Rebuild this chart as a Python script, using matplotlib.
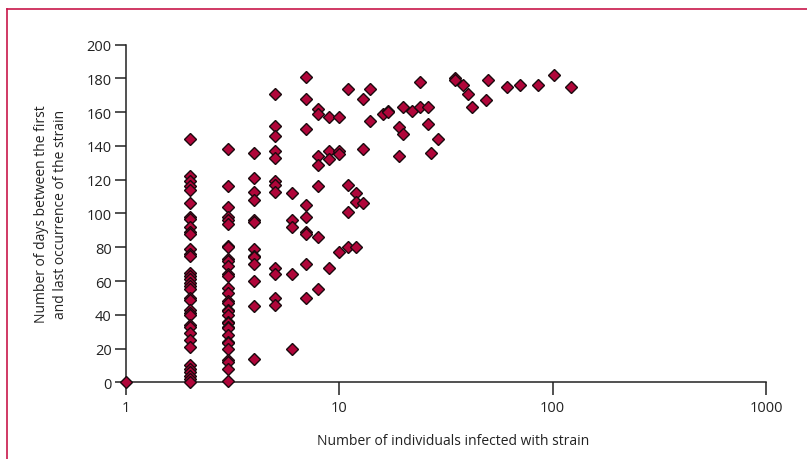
import matplotlib
matplotlib.use("Agg")
import matplotlib.pyplot as plt
from matplotlib.lines import Line2D

plt.rcParams['font.family'] = ['Open Sans', 'DejaVu Sans']

# number of individuals infected with a strain (one entry per group)
n_infected = [1, 2, 3, 4, 5, 6, 7, 8, 9, 10, 11, 12, 13, 14, 16, 17, 19, 20, 22,
              24, 26, 27, 29, 35, 38, 40, 42, 49, 50, 61, 70, 85, 102, 122]

# days between first and last occurrence, for each group above
days_span = [
    [0],
    [144, 122, 119, 116, 114, 106, 98, 97, 92, 89, 88, 79, 76, 75, 65, 63, 61, 59,
     57, 55, 50, 49, 43, 41, 40, 34, 33, 29, 25, 21, 10, 8, 6, 4, 2, 0],
    [138, 116, 104, 98, 96, 94, 81, 80, 73, 72, 69, 64, 63, 56, 53, 48, 47, 43,
     42, 40, 36, 35, 33, 32, 28, 24, 23, 20, 13, 12, 8, 1],
    [136, 121, 113, 108, 96, 95, 79, 75, 74, 70, 60, 45, 14],
    [171, 152, 146, 137, 133, 119, 117, 113, 68, 64, 50, 46],
    [112, 96, 92, 64, 20],
    [181, 168, 150, 105, 98, 89, 88, 70, 50],
    [162, 159, 134, 129, 116, 86, 55],
    [157, 137, 132, 68],
    [157, 137, 135, 77],
    [174, 117, 101, 80],
    [112, 107, 80],
    [168, 138, 106],
    [174, 155],
    [159],
    [161, 160],
    [151, 134],
    [163, 147],
    [161],
    [178, 163],
    [163, 153],
    [136],
    [144],
    [180, 179],
    [176],
    [171],
    [163],
    [167],
    [179],
    [175],
    [176],
    [176],
    [182],
    [175],
]

xs = []
ys = []
for n, days in zip(n_infected, days_span):
    for d in days:
        xs.append(n)
        ys.append(d)

fig = plt.figure(figsize=(8.07, 4.60), dpi=100)
ax = fig.add_axes([0.1558, 0.1667, 0.7934, 0.734])

ax.plot(xs, ys, linestyle='none', marker='D', markersize=6.3,
        markerfacecolor='#b0063a', markeredgecolor='#1a0a0e', markeredgewidth=1.0,
        clip_on=False, zorder=3)

ax.set_xscale('log')
ax.set_xlim(1, 1000)
ax.set_ylim(0, 200)
ax.set_xticks([1, 10, 100, 1000])
ax.set_xticklabels(['1', '10', '100', '1000'])
ax.xaxis.set_minor_locator(matplotlib.ticker.NullLocator())
ax.set_yticks(range(0, 201, 20))

for s in ['top', 'right']:
    ax.spines[s].set_visible(False)
for s in ['left', 'bottom']:
    ax.spines[s].set_linewidth(1.1)
    ax.spines[s].set_color('#222222')

ax.tick_params(axis='x', direction='out', length=9, width=1.1, pad=4,
               labelsize=10.5, colors='#222222')
ax.tick_params(axis='y', direction='out', length=8, width=1.1, pad=2,
               labelsize=10.5, colors='#222222')

fig.text(453 / 807, 1 - 442 / 460, 'Number of individuals infected with strain',
         ha='center', va='center', fontsize=10, color='#222222')
fig.text(51 / 807, 1 - 214 / 460,
         'Number of days between the first\nand last occurrence of the strain',
         ha='center', va='center', rotation=90, fontsize=10, color='#222222',
         multialignment='center', linespacing=1.3)

# frame lines along top and left edge
frame = '#c8174a'
fig.add_artist(Line2D([7 / 807, 1], [1 - 10 / 460, 1 - 10 / 460],
                      transform=fig.transFigure, color=frame, lw=1.2))
fig.add_artist(Line2D([7 / 807, 7 / 807], [0, 1 - 10 / 460],
                      transform=fig.transFigure, color=frame, lw=1.2))

fig.savefig('out.png', dpi=100)
